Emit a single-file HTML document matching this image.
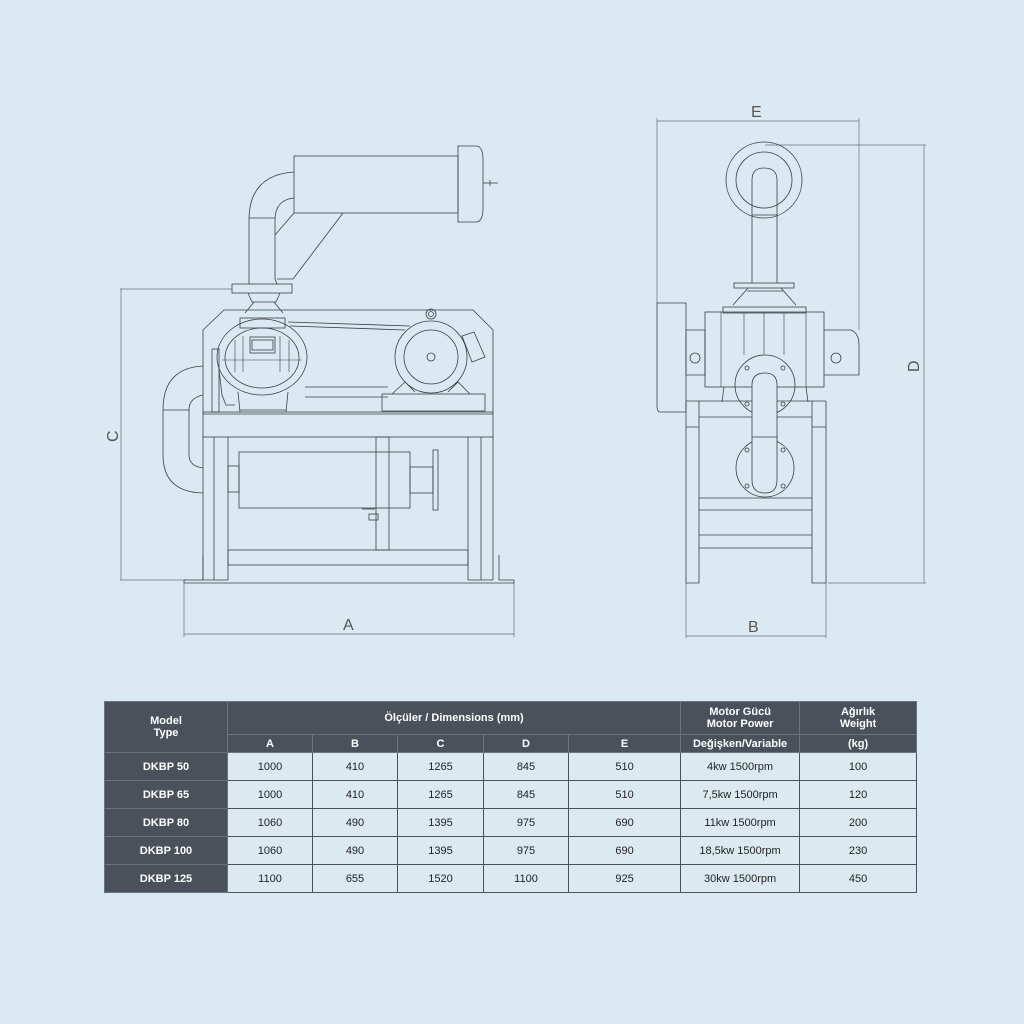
<!DOCTYPE html>
<html><head><meta charset="utf-8"><style>
html,body{margin:0;padding:0;background:#dbeaf2;}
body{width:1024px;height:1024px;position:relative;overflow:hidden;font-family:"Liberation Sans",sans-serif;}
svg{position:absolute;left:0;top:0;}
table{position:absolute;left:104px;top:701px;width:812px;border-collapse:collapse;table-layout:fixed;font-family:"Liberation Sans Narrow","Liberation Sans",sans-serif;font-size:11px;line-height:12px;color:#222;}
td{border:1px solid #4a515b;text-align:center;padding:0;background:#dde9f0;}
tr.b td{height:27px;}
td.h{background:#4a515b;color:#fff;font-weight:bold;border-color:#6b7380;}
td.m{background:#4a515b;color:#fff;font-weight:bold;border-color:#6b7380;}
</style></head><body>
<svg width="1024" height="1024" viewBox="0 0 1024 1024" fill="none" stroke="#3a3f45" stroke-width="0.8">
<g stroke="#6a6f75" stroke-width="0.7">
<line x1="120" y1="289" x2="232" y2="289"/><line x1="120" y1="580" x2="186" y2="580"/>
<line x1="121" y1="289" x2="121" y2="580"/>
<line x1="184" y1="583" x2="184" y2="637"/><line x1="514" y1="583" x2="514" y2="637"/>
<line x1="184" y1="634" x2="514" y2="634"/>
</g>
<g fill="#555" stroke="none" font-size="16">
<text x="343" y="630">A</text>
<text transform="translate(118,442) rotate(-90)">C</text>
<text x="751" y="117">E</text>
<text x="748" y="632">B</text>
<text transform="translate(919,372) rotate(-90)">D</text>
</g>
<rect x="294" y="156" width="164" height="57"/>
<path d="M458 146 H476 Q483 146 483 160 V208 Q483 222 476 222 H458 Z"/>
<line x1="483" y1="183" x2="498" y2="183"/><line x1="490" y1="180" x2="490" y2="186"/>
<path d="M294 172 Q249 175 249 220 V284"/>
<path d="M294 198 Q275 200 275 220 V279 L277 284"/>
<line x1="249" y1="218" x2="275" y2="218"/>
<path d="M343 213 L293 279 H277"/><path d="M275 235 L294 213"/>
<rect x="232" y="284" width="60" height="9"/>
<path d="M248 293 L252 302 H276 L280 293"/><path d="M245 313 L254 302 M283 313 L274 302"/>
<path d="M203 412 V330 L224 310 H473 L493 330 V412"/>
<rect x="240" y="318" width="45" height="10"/>
<ellipse cx="262" cy="357" rx="45" ry="38"/>
<ellipse cx="262" cy="358" rx="37" ry="30"/>
<rect x="250" y="337" width="25" height="16"/><rect x="252" y="340" width="21" height="10"/>
<g stroke-width="0.6"><line x1="235" y1="340" x2="235" y2="372"/><line x1="243" y1="336" x2="243" y2="372"/><line x1="280" y1="336" x2="280" y2="372"/><line x1="289" y1="340" x2="289" y2="372"/><line x1="222" y1="360" x2="302" y2="360"/></g>
<path d="M238 392 L240 412 M288 392 L286 412 M240 410 H286"/>
<rect x="212" y="349" width="7" height="63"/>
<path d="M219 370 L222 395 L226 405 H235"/>
<line x1="288" y1="322" x2="410" y2="326"/><line x1="290" y1="326" x2="405" y2="330"/>
<line x1="305" y1="387" x2="388" y2="387"/><line x1="305" y1="397" x2="388" y2="397"/>
<circle cx="431" cy="314" r="5"/><circle cx="431" cy="314" r="2.5"/>
<circle cx="431" cy="357" r="36"/><circle cx="431" cy="357" r="27"/><circle cx="431" cy="357" r="4"/>
<path d="M462 336 L474 332 L485 357 L472 362 Z"/>
<path d="M392 394 L405 382 L415 392 M470 394 L458 382 L448 392"/>
<rect x="382" y="394" width="103" height="17"/>
<rect x="203" y="412" width="290" height="25"/>
<line x1="203" y1="414" x2="493" y2="414"/>
<path d="M203 437 V580 M228 437 V580 M468 437 V580 M493 437 V580 M214 437 V580 M481 437 V580"/>
<path d="M184 580 V583 H514 V580 H499 V555 M493 580 H468 M228 580 H203 V555 M203 580 H184"/>
<rect x="228" y="550" width="240" height="15"/>
<rect x="376" y="437" width="13" height="113"/>
<rect x="239" y="452" width="171" height="56"/>
<rect x="228" y="466" width="11" height="26"/>
<rect x="410" y="467" width="23" height="26"/>
<rect x="433" y="450" width="5" height="60"/>
<rect x="369" y="514" width="9" height="6"/><line x1="362" y1="509" x2="375" y2="509"/>
<path d="M203 366 Q163 368 163 410 V455 Q163 492 203 493"/>
<path d="M203 395 Q189 398 189 410 V455 Q189 466 203 468"/>
<line x1="163" y1="410" x2="189" y2="410"/>
<g stroke="#6a6f75" stroke-width="0.7">
<line x1="657" y1="121" x2="859" y2="121"/><line x1="657" y1="118" x2="657" y2="303"/><line x1="859" y1="118" x2="859" y2="330"/>
<line x1="765" y1="145" x2="926" y2="145"/><line x1="828" y1="583" x2="926" y2="583"/><line x1="924" y1="145" x2="924" y2="583"/>
<line x1="686" y1="583" x2="686" y2="638"/><line x1="826" y1="583" x2="826" y2="638"/><line x1="686" y1="636" x2="826" y2="636"/>
</g>
<circle cx="764" cy="180" r="38"/><circle cx="764" cy="180" r="28"/>
<path d="M752 283 V180 Q752 168 764 168 Q777 168 777 180 V283"/>
<line x1="752" y1="215" x2="777" y2="215"/>
<rect x="734" y="283" width="60" height="5"/>
<path d="M748 288 L733 305 M781 288 L796 305 M747 291 H783"/>
<rect x="723" y="307" width="83" height="6"/>
<rect x="705" y="312" width="119" height="75"/>
<path d="M686 330 H705 V375 H686 Z M824 330 H851 Q859 333 859 345 V375 H824"/>
<g stroke-width="0.6"><line x1="721" y1="312" x2="721" y2="387"/><line x1="744" y1="313" x2="744" y2="355"/><line x1="764" y1="313" x2="764" y2="355"/><line x1="784" y1="313" x2="784" y2="355"/><line x1="806" y1="313" x2="806" y2="387"/></g>
<circle cx="695" cy="358" r="5"/><circle cx="836" cy="358" r="5"/>
<path d="M657 303 H686 V412 H660 Q657 412 657 405 Z"/>
<circle cx="765" cy="385" r="30"/>
<path d="M724 387 L722 402 M806 387 L808 402"/>
<path d="M686 401 H826 M686 401 V583 H699 V401 M812 401 V583 H826 V401"/>
<path d="M699 417 H812 M686 427 H699 M812 427 H826"/>
<path d="M699 498 H812 M699 510 H812 M699 535 H812 M699 548 H812"/>
<circle cx="765" cy="468" r="29"/>
<path d="M752 480 V385 Q752 373 765 373 Q777 373 777 385 V480 Q777 493 765 493 Q752 493 752 480 Z" fill="#dbeaf2"/>
<line x1="752" y1="437" x2="777" y2="437"/>
<g fill="none"><circle cx="747" cy="450" r="2"/><circle cx="783" cy="450" r="2"/><circle cx="747" cy="486" r="2"/><circle cx="783" cy="486" r="2"/><circle cx="747" cy="368" r="2"/><circle cx="783" cy="368" r="2"/><circle cx="747" cy="404" r="2"/><circle cx="783" cy="404" r="2"/></g>
</svg>
<table>
<colgroup><col style="width:123px"><col style="width:85px"><col style="width:85px"><col style="width:86px"><col style="width:85px"><col style="width:112px"><col style="width:119px"><col style="width:117px"></colgroup>
<tr style="height:33px"><td class="h" rowspan="2">Model<br>Type</td><td class="h" colspan="5">Ölçüler / Dimensions (mm)</td><td class="h">Motor Gücü<br>Motor Power</td><td class="h">Ağırlık<br>Weight</td></tr>
<tr style="height:18px"><td class="h">A</td><td class="h">B</td><td class="h">C</td><td class="h">D</td><td class="h">E</td><td class="h">Değişken/Variable</td><td class="h">(kg)</td></tr>
<tr class="b"><td class="m">DKBP 50</td><td>1000</td><td>410</td><td>1265</td><td>845</td><td>510</td><td>4kw 1500rpm</td><td>100</td></tr>
<tr class="b"><td class="m">DKBP 65</td><td>1000</td><td>410</td><td>1265</td><td>845</td><td>510</td><td>7,5kw 1500rpm</td><td>120</td></tr>
<tr class="b"><td class="m">DKBP 80</td><td>1060</td><td>490</td><td>1395</td><td>975</td><td>690</td><td>11kw 1500rpm</td><td>200</td></tr>
<tr class="b"><td class="m">DKBP 100</td><td>1060</td><td>490</td><td>1395</td><td>975</td><td>690</td><td>18,5kw 1500rpm</td><td>230</td></tr>
<tr class="b"><td class="m">DKBP 125</td><td>1100</td><td>655</td><td>1520</td><td>1100</td><td>925</td><td>30kw 1500rpm</td><td>450</td></tr>
</table>
</body></html>
